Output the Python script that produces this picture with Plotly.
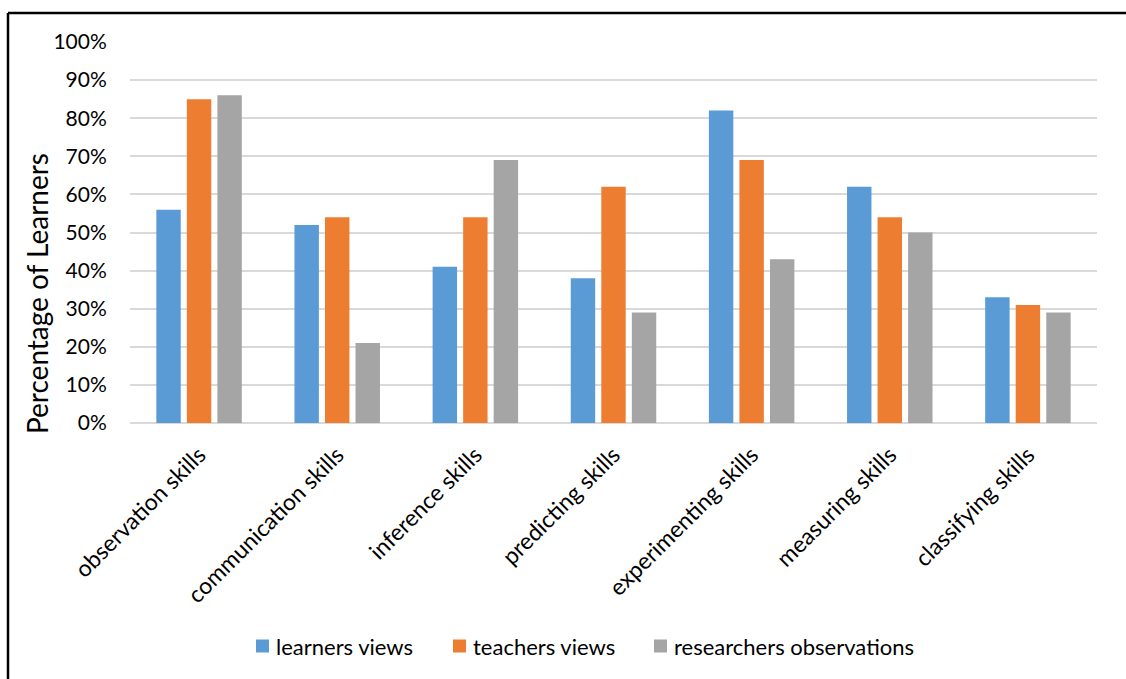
import plotly.graph_objects as go

categories = ["observation skills", "communication skills", "inference skills",
              "predicting skills", "experimenting skills", "measuring skills",
              "classifying skills"]
learners_views = [56, 52, 41, 38, 82, 62, 33]
teachers_views = [85, 54, 54, 62, 69, 54, 31]
researchers_observations = [86, 21, 69, 29, 43, 50, 29]
series_names = ["learners views", "teachers views", "researchers observations"]
colors = ["#5B9BD5", "#ED7D31", "#A5A5A5"]
y_ticks = list(range(0, 101, 10))

W, H = 1126, 679
L, R, T, B = 130, 1097, 42, 423
FONT = "Lato"

def px_x(px):
    return (px - L) / (R - L)

def px_y(py):
    return (B - py) / (B - T)

fig = go.Figure()
for name, vals, c in zip(series_names,
                         [learners_views, teachers_views, researchers_observations],
                         colors):
    fig.add_trace(go.Bar(x=categories, y=vals, name=name, marker_color=c,
                         marker_line_width=0))

fig.update_layout(
    width=W, height=H,
    margin=dict(l=L, r=W - R, t=T, b=H - B, pad=0),
    paper_bgcolor="white", plot_bgcolor="white",
    barmode="group", bargap=0.337, bargroupgap=0.2,
    font=dict(family=FONT, color="#000000", size=20),
    showlegend=False,
    xaxis=dict(tickangle=-45, showgrid=False, showline=False, ticks="",
               ticklabelstandoff=13,
               tickfont=dict(size=23, family=FONT)),
    yaxis=dict(range=[0, 100], tickvals=y_ticks,
               ticktext=[f"{v}%" for v in y_ticks],
               showgrid=True, gridcolor="#D9D9D9", gridwidth=1.5,
               zeroline=True, zerolinecolor="#D9D9D9", zerolinewidth=1.5,
               showline=False, ticks="outside", ticklen=18, tickcolor="rgba(0,0,0,0)",
               tickfont=dict(size=21, family=FONT)),
)

fig.add_annotation(text="Percentage of Learners", textangle=-90,
                   xref="paper", yref="paper", x=px_x(37), y=px_y(294),
                   xanchor="center", yanchor="middle", showarrow=False,
                   font=dict(size=28, family=FONT, color="#000000"))

# legend drawn manually to match the reference spacing
legend_sym_x = [256, 453, 654]
legend_y = 646
for name, c, sx in zip(series_names, colors, legend_sym_x):
    fig.add_shape(type="rect", xref="paper", yref="paper",
                  x0=px_x(sx), x1=px_x(sx + 13),
                  y0=px_y(legend_y - 6.5), y1=px_y(legend_y + 6.5),
                  fillcolor=c, line=dict(width=0))
    fig.add_annotation(text=name, xref="paper", yref="paper",
                       x=px_x(sx + 18), y=px_y(legend_y),
                       xanchor="left", yanchor="middle", showarrow=False,
                       font=dict(size=22, family=FONT, color="#000000"))

# border (left and top edges visible)
fig.add_shape(type="line", xref="paper", yref="paper",
              x0=px_x(8), x1=px_x(8), y0=px_y(13), y1=px_y(700),
              line=dict(color="black", width=2.5))
fig.add_shape(type="line", xref="paper", yref="paper",
              x0=px_x(8), x1=px_x(1140), y0=px_y(13), y1=px_y(13),
              line=dict(color="black", width=2.5))

fig.write_html("out.html")
